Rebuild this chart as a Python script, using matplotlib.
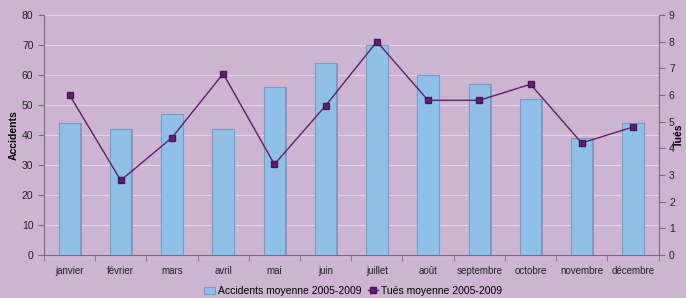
import matplotlib.pyplot as plt
import numpy as np

mois = ["janvier", "février", "mars", "avril", "mai", "juin", "juillet",
        "août", "septembre", "octobre", "novembre", "décembre"]
accidents = [44, 42, 47, 42, 56, 64, 70, 60, 57, 52, 39, 44]
tues = [6.0, 2.8, 4.4, 6.8, 3.4, 5.6, 8.0, 5.8, 5.8, 6.4, 4.2, 4.8]

bg = "#cdb4d1"
plt.rcParams["font.family"] = ["Liberation Sans", "DejaVu Sans"]

fig = plt.figure(figsize=(6.86, 2.98), dpi=100, facecolor=bg)
ax = fig.add_axes([0.064, 0.144, 0.896, 0.806], facecolor=bg)
x = np.arange(len(mois))

# ombre des barres
ax.bar(x + 0.03, accidents, width=0.42, color="#a98fb0", zorder=2)
bars = ax.bar(x, accidents, width=0.42, color="#8ec0e8", edgecolor="#6f9fc4",
              linewidth=0.8, zorder=3, label="Accidents moyenne 2005-2009")
ax.set_ylim(0, 80)
ax.set_yticks(range(0, 81, 10))
ax.set_xlim(-0.5, 11.5)
ax.set_xticks(x)
ax.set_xticklabels(mois)
ax.set_xticks(np.arange(-0.5, 12, 1), minor=True)
ax.tick_params(axis="x", which="major", length=0, labelsize=7, colors="#222222", pad=8)
ax.tick_params(axis="x", which="minor", length=4, color="#7a6a80")
ax.tick_params(axis="y", labelsize=7.5, length=4, color="#7a6a80", labelcolor="#222222")
ax.set_ylabel("Accidents", fontsize=7.5, fontweight="bold", labelpad=2)
ax.grid(axis="y", color="#e2d4e6", linewidth=0.8, zorder=0)
ax.set_axisbelow(True)
for s in ["top", "right"]:
    ax.spines[s].set_visible(False)
for s in ["left", "bottom"]:
    ax.spines[s].set_color("#7a6a80")
    ax.spines[s].set_linewidth(0.8)

ax2 = ax.twinx()
line, = ax2.plot(x, tues, color="#5e1f6b", linewidth=1, marker="s", markersize=5,
                 markerfacecolor="#5e1f6b", markeredgecolor="#4a1555",
                 label="Tués moyenne 2005-2009", zorder=4)
ax2.set_ylim(0, 9)
ax2.set_yticks(range(0, 10))
ax2.tick_params(axis="y", labelsize=7.5, length=4, color="#7a6a80", labelcolor="#222222")
for s in ["top", "left", "bottom"]:
    ax2.spines[s].set_visible(False)
ax2.spines["right"].set_color("#7a6a80")
ax2.spines["right"].set_linewidth(0.8)

fig.text(0.989, 0.547, "Tués", fontsize=7.5, fontweight="bold", rotation=90,
         ha="center", va="center")

fig.legend([bars, line], [bars.get_label(), line.get_label()], loc="lower center",
           bbox_to_anchor=(0.515, -0.025), ncol=2, frameon=False, fontsize=7.5,
           handlelength=1.0, handletextpad=0.3, columnspacing=0.6)

fig.savefig("out.png", dpi=100, facecolor=bg)
